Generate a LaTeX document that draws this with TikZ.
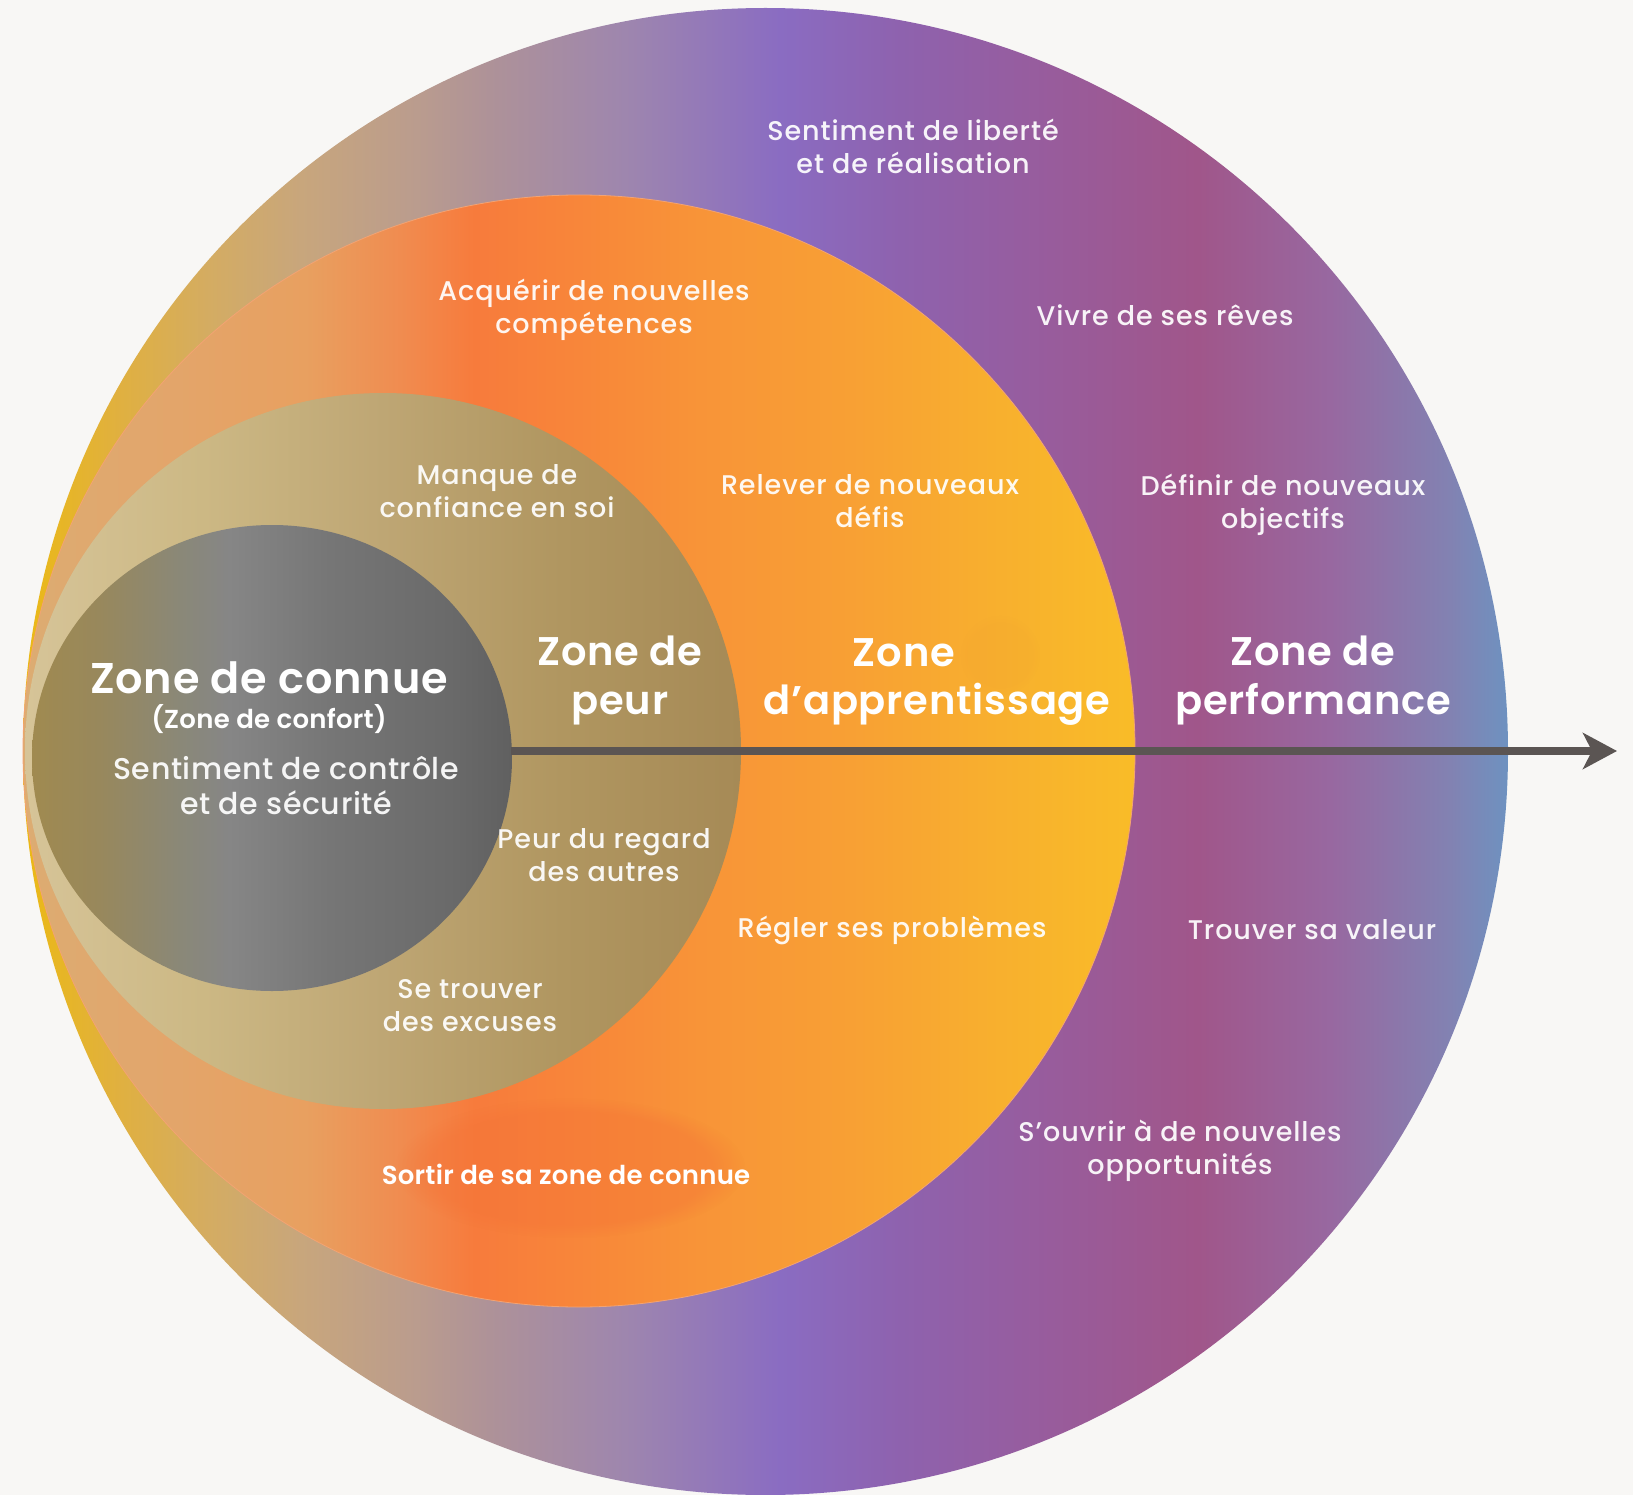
\documentclass[tikz,border=0pt]{standalone}
\usepackage{fontspec}
\setmainfont{Poppins}
\IfFontExistsTF{Poppins Medium}{\newfontfamily\medf{Poppins Medium}}{\newfontfamily\medf{Poppins}}
\IfFontExistsTF{Poppins SemiBold}{\newfontfamily\semif{Poppins SemiBold}}{\newcommand\semif{\bfseries}}
\usetikzlibrary{arrows.meta,fadings}
\definecolor{bgc}{HTML}{F8F7F5}
\definecolor{arrowc}{HTML}{5B5553}
\definecolor{blobc}{HTML}{F47236}
\definecolor{blobb}{HTML}{F0A030}
% outer
\definecolor{o0}{HTML}{EBB915}\definecolor{o1}{HTML}{E0B040}\definecolor{o2}{HTML}{D4AC62}
\definecolor{o3}{HTML}{C8A67C}\definecolor{o4}{HTML}{BA9C8E}\definecolor{o5}{HTML}{AE9298}
\definecolor{o6}{HTML}{9E86AE}\definecolor{o7}{HTML}{8A6CC2}\definecolor{o8}{HTML}{8E62AE}
\definecolor{o9}{HTML}{985C9C}\definecolor{o10}{HTML}{A0568A}\definecolor{o11}{HTML}{9868A0}
\definecolor{o12}{HTML}{8282B2}\definecolor{o13}{HTML}{6E92C0}
% learning
\definecolor{l0}{HTML}{DCAC72}\definecolor{l1}{HTML}{E2A66C}\definecolor{l2}{HTML}{E8A060}
\definecolor{l3}{HTML}{F08C50}\definecolor{l4}{HTML}{F77B3C}\definecolor{l5}{HTML}{F8843A}
\definecolor{l6}{HTML}{F89438}\definecolor{l7}{HTML}{F8A034}\definecolor{l8}{HTML}{F8B02E}
\definecolor{l9}{HTML}{F9BC28}
% fear
\definecolor{f0}{HTML}{D6C498}\definecolor{f1}{HTML}{CCB884}\definecolor{f2}{HTML}{BEA674}
\definecolor{f3}{HTML}{B09660}\definecolor{f4}{HTML}{A68A56}
% comfort
\definecolor{c0}{HTML}{A08A50}\definecolor{c1}{HTML}{98885C}\definecolor{c2}{HTML}{8A8878}
\definecolor{c3}{HTML}{868686}\definecolor{c4}{HTML}{767676}\definecolor{c5}{HTML}{6A6A6A}
\definecolor{c6}{HTML}{606060}
\pgfdeclarehorizontalshading{outershade}{100bp}{color(0bp)=(o0); color(25bp)=(o0); color(28.25bp)=(o1); color(31.25bp)=(o2); color(34.35bp)=(o3); color(38.25bp)=(o4); color(40.7bp)=(o5); color(45.25bp)=(o6); color(50.5bp)=(o7); color(54.55bp)=(o8); color(59.6bp)=(o9); color(64.55bp)=(o10); color(69bp)=(o11); color(73.05bp)=(o12); color(75bp)=(o13); color(100bp)=(o13)}
\pgfdeclarehorizontalshading{learnshade}{100bp}{color(0bp)=(l0); color(25bp)=(l0); color(30.7bp)=(l1); color(37.7bp)=(l2); color(41.95bp)=(l3); color(45.3bp)=(l4); color(49.15bp)=(l5); color(55.45bp)=(l6); color(62.2bp)=(l7); color(68.95bp)=(l8); color(75bp)=(l9); color(100bp)=(l9)}
\pgfdeclarehorizontalshading{fearshade}{100bp}{color(0bp)=(f0); color(25bp)=(f0); color(37.5bp)=(f1); color(50bp)=(f2); color(62.5bp)=(f3); color(75bp)=(f4); color(100bp)=(f4)}
\pgfdeclarehorizontalshading{comfshade}{100bp}{color(0bp)=(c0); color(25bp)=(c0); color(32bp)=(c1); color(40.5bp)=(c2); color(45.5bp)=(c3); color(56bp)=(c4); color(68.5bp)=(c5); color(75bp)=(c6); color(100bp)=(c6)}
\tikzset{
  lbl/.style={text=white, text opacity=0.93, align=center, inner sep=0pt,
    font=\medf\addfontfeature{LetterSpace=3.5}\fontsize{27}{33}\selectfont},
  biglbl/.style={text=white, text opacity=0.93, align=center, inner sep=0pt,
    font=\medf\addfontfeature{LetterSpace=2}\fontsize{30}{35}\selectfont},
  title/.style={text=white, align=center, inner sep=0pt,
    font=\semif\addfontfeature{LetterSpace=2}\fontsize{40}{49}\selectfont},
}
\begin{document}
\begin{tikzpicture}[x=1pt,y=-1pt]
\fill[bgc] (0,0) rectangle (1633,1495);
\useasboundingbox (0,0) rectangle (1633,1495);
% zones
\shade[shading=outershade] (765.5,751.5) ellipse [x radius=742.5pt, y radius=743.5pt];
\shade[shading=learnshade] (579,751) ellipse [x radius=556pt, y radius=556pt];
\draw[color=l3!80!white, line width=0.8pt] (579,751) ellipse [x radius=556pt, y radius=556pt];
\fill[blobc, opacity=0.4, path fading=circle with fuzzy edge 20 percent] (570,1168) ellipse [x radius=175pt, y radius=70pt];
\fill[blobb, opacity=0.15, path fading=circle with fuzzy edge 20 percent] (1000,655) ellipse [x radius=40pt, y radius=40pt];
\shade[shading=fearshade] (383,751) ellipse [x radius=358pt, y radius=358pt];
\shade[shading=comfshade] (272,758) ellipse [x radius=240pt, y radius=233pt];
% arrow
\coordinate (astart) at (511,751);
\coordinate (atip) at (1617,751);
\draw[arrowc, line width=8pt, -{Stealth[length=34pt, width=36pt, inset=9pt]}] (astart) -- (atip);
% texts
\node[lbl] (lib) at (913,146) {Sentiment de liberté\\et de réalisation};
\node[lbl] (acq) at (594,310) {Acquérir de nouvelles\\compétences};
\node[lbl] (vivre) at (1165,315) {Vivre de ses rêves};
\node[lbl] (manque) at (497,491) {Manque de\\confiance en soi};
\node[lbl] (relever) at (870,501) {Relever de nouveaux\\défis};
\node[lbl] (definir) at (1283,505) {Définir de nouveaux\\objectifs};
\node[title] (peur) at (620,680) {Zone de\\peur};
\node[title] (app1) at (904,653) {Zone};
\node[title] (app2) at (937,704) {d’apprentissage};
\node[title] (perf) at (1313,680) {Zone de\\performance};
\node[title, font=\semif\addfontfeature{LetterSpace=2}\fontsize{43}{48}\selectfont] (connue) at (269,678) {Zone de connue};
\node[title, font=\semif\addfontfeature{LetterSpace=1}\fontsize{26}{30}\selectfont] (confort) at (269,719) {(Zone de confort)};
\node[biglbl] (secur) at (286,786) {Sentiment de contrôle\\et de sécurité};
\node[lbl] (regard) at (604,855) {Peur du regard\\des autres};
\node[lbl] (regler) at (892,930) {Régler ses problèmes};
\node[lbl] (valeur) at (1312,930) {Trouver sa valeur};
\node[lbl] (excuses) at (470,1006) {Se trouver\\des excuses};
\node[lbl] (ouvrir) at (1180,1151) {S’ouvrir à de nouvelles\\opportunités};
\node[title, font=\semif\addfontfeature{LetterSpace=1}\fontsize{26}{30}\selectfont] (sortir) at (566,1174) {Sortir de sa zone de connue};
\end{tikzpicture}
\end{document}
